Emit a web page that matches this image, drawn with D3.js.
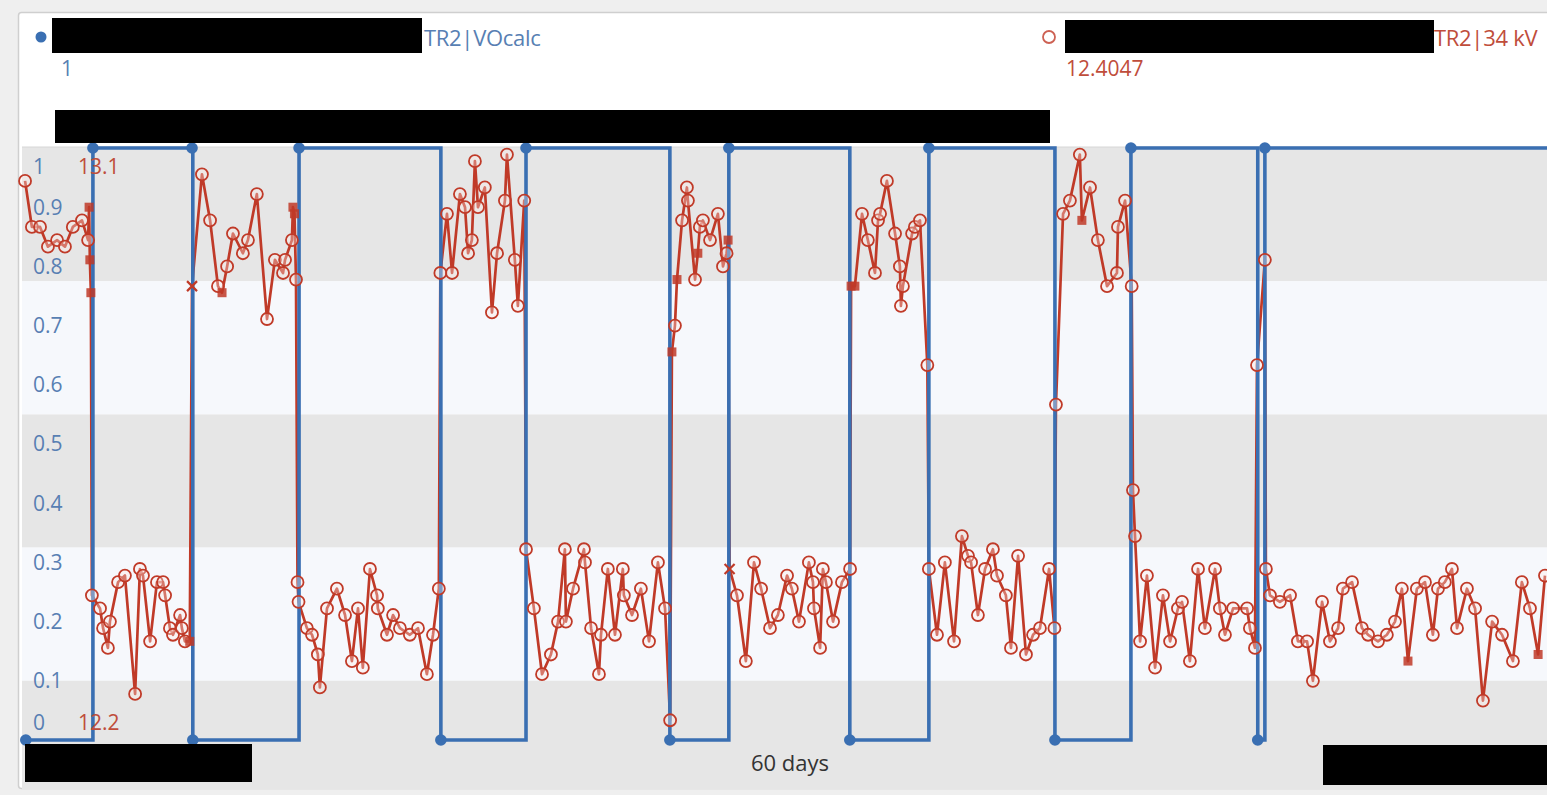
<!DOCTYPE html>
<html>
<head>
<meta charset="utf-8">
<script src="https://cdn.jsdelivr.net/npm/d3@7"></script>
<style>
html,body{margin:0;padding:0;background:#eeeeee;overflow:hidden;}
svg{display:block;}
text{font-family:"Open Sans","Noto Sans",sans-serif;}
</style>
</head>
<body>
<svg id="chart" width="1547" height="795"></svg>
<script>
// ---------------- data ----------------
const blueName = "TR2|VOcalc";
const redName = "TR2|34 kV";
const blueLegendValue = "1";
const redLegendValue = "12.4047";
const xLabel = "60 days";

const leftTicks = [1, 0.9, 0.8, 0.7, 0.6, 0.5, 0.4, 0.3, 0.2, 0.1, 0];
const rightTicks = [13.1, 12.2];
const bandEdges = [1, 0.775, 0.55, 0.325, 0.1];

// VOcalc step series (days, value)
const blueDays = [0.15, 2.79, 6.69, 6.72, 10.9, 16.48, 19.83, 25.49, 27.81, 32.57, 35.68, 40.64, 43.63, 48.62, 48.9, 61];
const blueVals = [0, 1, 1, 0, 1, 0, 1, 0, 1, 0, 1, 0, 1, 0, 1, 1];

// 34 kV series (days, kV)
const redDays = [
 0.12,0.39,0.71,1.02,1.38,1.69,2.00,2.36,2.60,2.64,2.67,2.71,
 2.75,3.07,3.19,3.38,3.46,3.78,4.05,4.45,4.64,4.76,5.04,5.31,5.55,5.63,5.82,5.94,6.22,6.29,6.41,6.60,
 6.69,7.08,7.40,7.71,7.87,8.07,8.30,8.69,8.89,9.24,9.64,9.95,10.27,10.35,10.62,10.66,10.72,10.78,
 10.84,10.88,11.21,11.41,11.64,11.72,12.00,12.39,12.71,12.98,13.22,13.41,13.69,13.97,14.00,14.36,14.60,14.87,15.26,15.58,15.93,16.17,16.40,
 16.46,16.72,16.92,17.23,17.43,17.55,17.70,17.82,17.94,18.21,18.49,18.69,19.00,19.08,19.39,19.51,19.76,
 19.83,20.14,20.46,20.81,21.09,21.36,21.40,21.68,22.11,22.15,22.39,22.70,22.78,23.05,23.33,23.64,23.68,24.00,24.35,24.67,25.02,25.30,25.50,
 25.57,25.69,25.77,25.97,26.16,26.20,26.48,26.59,26.67,26.79,27.07,27.38,27.58,27.72,27.78,
 27.84,28.13,28.48,28.80,29.08,29.43,29.74,30.10,30.29,30.57,30.96,31.12,31.16,31.40,31.51,31.63,31.91,32.26,32.58,
 32.62,32.77,33.05,33.28,33.56,33.68,33.76,34.03,34.35,34.54,34.58,34.66,35.02,35.13,35.33,35.62,
 35.68,36.00,36.31,36.67,36.98,37.22,37.34,37.61,37.89,38.20,38.36,38.71,38.91,39.19,39.50,39.78,40.05,40.41,40.62,
 40.68,40.96,41.23,41.62,41.70,42.02,42.33,42.69,43.08,43.12,43.40,43.66,
 43.71,43.79,43.99,44.26,44.58,44.89,45.17,45.48,45.64,45.95,46.27,46.54,46.94,47.13,47.33,47.65,48.20,48.31,48.51,48.59,48.90,
 48.94,49.10,49.49,49.89,50.20,50.56,50.79,51.15,51.46,51.78,51.97,52.33,52.72,52.96,53.35,53.70,54.02,54.29,54.53,54.88,55.20,55.51,55.71,55.98,56.26,56.46,56.85,57.17,57.48,57.84,58.23,58.66,59.01,59.33,59.65,59.92
];
const redKV = [
 13.05,12.98,12.98,12.95,12.96,12.95,12.98,12.99,12.96,13.01,12.93,12.88,
 12.42,12.40,12.37,12.34,12.38,12.44,12.45,12.27,12.46,12.45,12.35,12.44,12.44,12.42,12.37,12.36,12.39,12.37,12.35,12.35,
 12.89,13.06,12.99,12.89,12.88,12.92,12.97,12.94,12.96,13.03,12.84,12.93,12.91,12.93,12.96,13.01,13.00,12.90,
 12.44,12.41,12.37,12.36,12.33,12.28,12.40,12.43,12.39,12.32,12.40,12.31,12.46,12.42,12.40,12.36,12.39,12.37,12.36,12.37,12.30,12.36,12.43,
 12.91,13.00,12.91,13.03,13.01,12.94,12.96,13.08,13.01,13.04,12.85,12.94,13.02,13.09,12.93,12.86,13.02,
 12.49,12.40,12.30,12.33,12.38,12.49,12.38,12.43,12.49,12.47,12.37,12.30,12.36,12.46,12.36,12.46,12.42,12.39,12.43,12.35,12.47,12.40,12.23,
 12.79,12.83,12.90,12.99,13.04,13.02,12.90,12.94,12.98,12.99,12.96,13.00,12.92,12.94,12.96,
 12.46,12.42,12.32,12.47,12.43,12.37,12.39,12.45,12.43,12.38,12.47,12.44,12.40,12.34,12.46,12.44,12.38,12.44,12.46,
 12.89,12.89,13.00,12.96,12.91,12.99,13.00,13.05,12.97,12.92,12.86,12.89,12.97,12.98,12.99,12.77,
 12.46,12.36,12.47,12.35,12.51,12.48,12.47,12.39,12.46,12.49,12.45,12.42,12.34,12.48,12.33,12.36,12.37,12.46,12.37,
 12.71,13.00,13.02,13.09,12.99,13.04,12.96,12.89,12.91,12.98,13.02,12.89,
 12.58,12.51,12.35,12.45,12.31,12.42,12.35,12.40,12.41,12.32,12.46,12.37,12.46,12.40,12.36,12.40,12.40,12.37,12.34,12.77,12.93,
 12.46,12.42,12.41,12.42,12.35,12.35,12.29,12.41,12.35,12.37,12.43,12.44,12.37,12.36,12.35,12.36,12.38,12.43,12.32,12.43,12.44,12.36,12.43,12.44,12.46,12.37,12.43,12.40,12.26,12.38,12.36,12.32,12.44,12.40,12.33,12.45
];
const squareDays = [2.64, 2.67, 2.71, 6.60, 7.87, 10.66, 10.72, 25.57, 25.77, 26.59, 27.78, 32.62, 32.77, 41.70, 54.53, 59.65];
const crossDays = [6.69, 27.84];

// ---------------- drawing ----------------
(function () {
const W = 1547, H = 795;
const pLeft = 22, pRight = 1547, pTop = 148, pBottom = 740;
const blue = "#3a6fb2", red = "#c03a28";
const blueText = "#587fb3", redText = "#bf4d3b";

const svg = d3.select("#chart");
const x = d3.scaleLinear().domain([0, 60]).range([pLeft, pRight]);
const yL = d3.scaleLinear().domain([0, 1]).range([pBottom, pTop]);
const yR = d3.scaleLinear().domain([12.2, 13.1]).range([pBottom, pTop]);

// panel
svg.append("rect").attr("x", 0).attr("y", 0).attr("width", W).attr("height", H).attr("fill", "#efefef");
svg.append("rect").attr("x", 18.5).attr("y", 12.5).attr("width", W).attr("height", 776)
  .attr("fill", "#ffffff").attr("stroke", "#cfcfcf").attr("stroke-width", 1.5).attr("rx", 3);

// bands
const bandTops = bandEdges.map(v => yL(v) - (v === 1 ? 1 : 0));
bandTops.forEach((t, i) => {
  const b = i < bandTops.length - 1 ? bandTops[i + 1] : 789;
  svg.append("rect").attr("x", pLeft).attr("y", t).attr("width", pRight - pLeft).attr("height", b - t)
    .attr("fill", i % 2 === 0 ? "#e6e6e6" : "#f6f8fc");
});
svg.append("line").attr("x1", pLeft).attr("x2", pRight).attr("y1", pTop - 1).attr("y2", pTop - 1)
  .attr("stroke", "#d6d6d6").attr("stroke-width", 1);

// red line
const redPts = redDays.map((d, i) => [d, redKV[i]]);
svg.append("path").datum(redPts)
  .attr("fill", "none").attr("stroke", red).attr("stroke-width", 2.7).attr("stroke-linejoin", "round")
  .attr("d", d3.line().x(d => x(d[0])).y(d => yR(d[1])));

// blue step line
const bluePts = blueDays.map((d, i) => [d, blueVals[i]]);
svg.append("path").datum(bluePts)
  .attr("fill", "none").attr("stroke", blue).attr("stroke-width", 3.6)
  .attr("d", d3.line().curve(d3.curveStepAfter).x(d => x(d[0])).y(d => yL(d[1])));

// red markers
const mk = svg.append("g");
redPts.forEach(p => {
  const cx = x(p[0]), cy = yR(p[1]);
  if (squareDays.includes(p[0])) {
    mk.append("rect").attr("x", cx - 4.5).attr("y", cy - 4.5).attr("width", 9).attr("height", 9)
      .attr("fill", red).attr("fill-opacity", 0.85);
  } else if (crossDays.includes(p[0])) {
    mk.append("path").attr("d", `M${cx-5},${cy-5}L${cx+5},${cy+5}M${cx-5},${cy+5}L${cx+5},${cy-5}`)
      .attr("stroke", red).attr("stroke-width", 2.2);
  } else {
    mk.append("circle").attr("cx", cx).attr("cy", cy).attr("r", 6)
      .attr("fill", "rgba(255,235,230,0.35)").attr("stroke", red).attr("stroke-width", 1.8);
  }
});

// blue dots
svg.append("g").selectAll("circle").data(bluePts).join("circle")
  .attr("cx", d => x(d[0])).attr("cy", d => yL(d[1])).attr("r", 5.8).attr("fill", blue);

// left axis labels (clamped inside plot)
const clampY = v => Math.max(167, Math.min(723, v));
svg.append("g").selectAll("text").data(leftTicks).join("text")
  .attr("x", 33).attr("y", d => clampY(yL(d))).attr("dy", "0.35em")
  .attr("fill", blueText).attr("font-size", 21).text(d => d3.format("~g")(d));
svg.append("g").selectAll("text").data(rightTicks).join("text")
  .attr("x", 78).attr("y", d => clampY(yR(d))).attr("dy", "0.35em")
  .attr("fill", redText).attr("font-size", 21).text(d => d3.format(".1f")(d));

// x label
svg.append("text").attr("x", 790).attr("y", 763).attr("dy", "0.35em").attr("text-anchor", "middle")
  .attr("fill", "#333").attr("font-size", 22).text(xLabel);

// legend
svg.append("circle").attr("cx", 41).attr("cy", 37).attr("r", 5.5).attr("fill", blue);
svg.append("text").attr("x", 424).attr("y", 38).attr("dy", "0.35em").attr("fill", blueText)
  .attr("font-size", 22).attr("letter-spacing", -0.3).text(blueName);
svg.append("text").attr("x", 61).attr("y", 69).attr("dy", "0.35em").attr("fill", blueText)
  .attr("font-size", 21).text(blueLegendValue);
svg.append("circle").attr("cx", 1049).attr("cy", 37).attr("r", 6).attr("fill", "none")
  .attr("stroke", red).attr("stroke-width", 1.8).attr("stroke-opacity", 0.8);
svg.append("text").attr("x", 1434).attr("y", 38).attr("dy", "0.35em").attr("fill", redText)
  .attr("font-size", 22).attr("letter-spacing", -0.3).text(redName);
svg.append("text").attr("x", 1066).attr("y", 69).attr("dy", "0.35em").attr("fill", redText)
  .attr("font-size", 21).text(redLegendValue);

// redaction bars
const bars = [[52, 18, 370, 35], [1065, 20, 369, 33], [55, 110, 995, 33], [25, 744, 227, 38], [1323, 745, 224, 40]];
svg.append("g").selectAll("rect").data(bars).join("rect")
  .attr("x", d => d[0]).attr("y", d => d[1]).attr("width", d => d[2]).attr("height", d => d[3]).attr("fill", "#000");
})();
</script>
</body>
</html>
